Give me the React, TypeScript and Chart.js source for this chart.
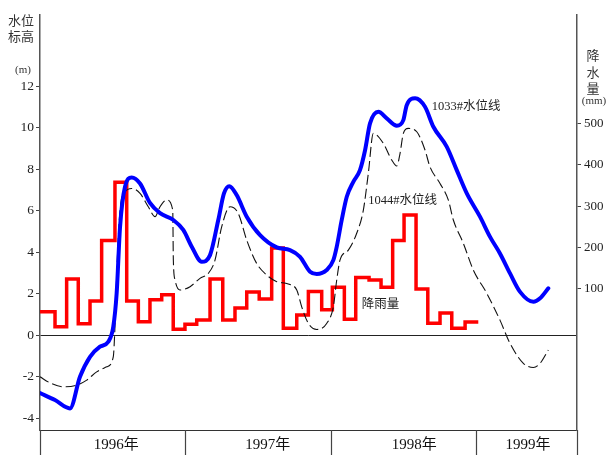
import React, { useEffect, useRef } from 'react';
import { Chart, registerables } from 'chart.js';

Chart.register(...registerables);

// ---- categories / axis labels ----
const yearLabels = ['1996年', '1997年', '1998年', '1999年'];
const yearLabelMonths = [6.3, 18.8, 30.9, 40.3];
const yearBoundaryMonths = [0, 12, 24, 36];
const monthMax = 44.34;
const levelTicks = [-4, -2, 0, 2, 4, 6, 8, 10, 12];
const rainTicks = [100, 200, 300, 400, 500];

// ---- 1033# water level (m), x in months since Jan 1996 ----
const w1033Months = [0, 1.24, 2.48, 3.3, 4.13, 4.95, 5.64, 6.05, 6.33, 6.61, 7.02, 7.57, 8.26, 9.08, 9.91, 11.01, 11.83, 12.53, 13.35, 14.04, 14.72, 15.19, 15.63, 16.24, 17.07, 18.17, 19.55, 20.64, 21.47, 22.3, 22.85, 23.67, 24.22, 24.5, 24.91, 25.33, 25.87, 26.42, 26.84, 27.25, 27.94, 28.63, 29.46, 30.0, 30.28, 30.97, 31.79, 32.48, 33.58, 34.41, 35.24, 36.33, 37.16, 37.98, 38.81, 39.64, 40.74, 41.29, 41.97];
const w1033Levels = [-2.78, -3.12, -3.52, -2.0, -1.04, -0.55, -0.31, 0.41, 2.03, 5.22, 7.15, 7.6, 7.31, 6.37, 5.88, 5.55, 5.07, 4.26, 3.54, 3.86, 5.55, 6.83, 7.18, 6.75, 5.71, 4.82, 4.23, 4.1, 3.78, 3.06, 2.95, 3.14, 3.62, 4.26, 5.54, 6.67, 7.39, 7.95, 8.91, 10.2, 10.76, 10.44, 10.09, 10.36, 11.08, 11.41, 11.0, 10.04, 9.08, 7.95, 6.83, 5.71, 4.74, 3.94, 2.98, 2.09, 1.61, 1.78, 2.26];

// ---- 1044# water level (m) ----
const w1044Months = [0, 0.83, 1.92, 3.03, 3.86, 4.68, 5.51, 6.05, 6.19, 6.38, 6.61, 7.02, 7.57, 8.26, 8.94, 9.5, 9.91, 10.46, 10.96, 11.01, 11.15, 11.56, 12.39, 13.21, 13.9, 14.45, 15.0, 15.69, 16.37, 17.07, 17.89, 18.72, 19.55, 20.5, 21.2, 21.61, 22.16, 22.85, 23.67, 24.22, 24.5, 24.77, 25.46, 26.15, 26.7, 27.11, 27.52, 28.35, 29.04, 29.46, 29.73, 30.0, 30.41, 31.11, 31.79, 32.2, 33.03, 33.72, 34.13, 34.96, 35.78, 36.89, 37.98, 38.81, 39.91, 40.74, 41.29, 41.97];
const w1044Levels = [-2.0, -2.29, -2.48, -2.4, -2.16, -1.76, -1.52, -1.04, 0.41, 3.62, 6.03, 6.91, 7.07, 6.83, 6.19, 5.71, 6.19, 6.51, 6.03, 3.62, 2.66, 2.18, 2.34, 2.74, 2.98, 3.62, 5.22, 6.19, 5.87, 4.58, 3.46, 2.9, 2.58, 2.47, 2.18, 1.37, 0.57, 0.28, 0.57, 1.37, 2.66, 3.62, 4.1, 4.91, 6.03, 7.8, 9.72, 9.24, 8.44, 8.15, 8.76, 9.72, 9.96, 9.8, 8.92, 8.11, 7.31, 6.51, 5.55, 4.42, 3.14, 2.02, 0.73, -0.39, -1.35, -1.55, -1.35, -0.71];

// ---- monthly rainfall (mm), step boundaries in months ----
const rainBounds = [0, 1.24, 2.2, 3.16, 4.13, 5.09, 6.19, 7.16, 8.12, 9.08, 10.05, 11.0, 11.97, 12.94, 14.04, 15.09, 16.1, 17.07, 18.1, 19.13, 20.09, 21.2, 22.16, 23.26, 24.14, 25.13, 26.07, 27.17, 28.16, 29.12, 30.06, 31.05, 32.02, 33.03, 34.0, 35.1, 36.19];
const rainMm = [45, 9, 124, 16, 71, 217, 358, 71, 21, 74, 86, 3, 15, 25, 124, 25, 54, 93, 76, 199, 5, 37, 94, 50, 104, 27, 128, 122, 104, 217, 279, 100, 17, 42, 5, 20];

// ---- annotations (month, level) ----
const notes = [
  { text: '1033#水位线', m: 32.35, v: 11.0 },
  { text: '1044#水位线', m: 27.1, v: 6.5 },
  { text: '降雨量', m: 26.56, v: 1.45 },
];

const SERIF = '"Liberation Serif", "Noto Sans CJK SC", serif';
const CJK = '"Noto Sans CJK SC", "Liberation Serif", sans-serif';

const decorPlugin = {
  id: 'decor',
  afterDraw(chart: any) {
    const { ctx, chartArea: a, scales } = chart;
    const xs = scales.x;
    const ys = scales.y;
    ctx.save();
    // axis extensions & year separators below plot
    ctx.strokeStyle = '#444';
    ctx.lineWidth = 1.2;
    const seps = yearBoundaryMonths.map((m) => xs.getPixelForValue(m));
    seps.push(a.right);
    seps.forEach((px: number) => {
      ctx.beginPath();
      ctx.moveTo(Math.round(px) + 0.5, a.bottom);
      ctx.lineTo(Math.round(px) + 0.5, chart.height);
      ctx.stroke();
    });
    // axis titles
    ctx.fillStyle = '#333';
    ctx.textAlign = 'center';
    ctx.textBaseline = 'middle';
    ctx.font = '13px ' + CJK;
    ctx.fillText('水位', a.left - 19, 20);
    ctx.fillText('标高', a.left - 19, 36);
    ctx.font = '11px ' + SERIF;
    ctx.fillText('(m)', a.left - 17, 70);
    ctx.font = '13px ' + CJK;
    ctx.fillText('降', a.right + 16, 55);
    ctx.fillText('水', a.right + 16, 72);
    ctx.fillText('量', a.right + 16, 88);
    ctx.font = '11px ' + SERIF;
    ctx.fillText('(mm)', a.right + 17, 101);
    // annotations
    ctx.textAlign = 'left';
    ctx.fillStyle = '#222';
    ctx.font = '12.5px ' + SERIF;
    notes.forEach((n) => {
      ctx.fillText(n.text, xs.getPixelForValue(n.m), ys.getPixelForValue(n.v));
    });
    ctx.restore();
  },
};

export default function App() {
  const ref = useRef<HTMLCanvasElement | null>(null);
  useEffect(() => {
    if (!ref.current) return;
    const rainPts = rainMm.map((v, i) => ({ x: rainBounds[i], y: v }));
    rainPts.push({ x: rainBounds[rainBounds.length - 1], y: rainMm[rainMm.length - 1] });
    const chart = new Chart(ref.current, {
      type: 'line',
      data: {
        datasets: [
          {
            label: '1033#水位线',
            data: w1033Months.map((m, i) => ({ x: m, y: w1033Levels[i] })),
            yAxisID: 'y',
            borderColor: '#0000ff',
            borderWidth: 4,
            cubicInterpolationMode: 'monotone',
            borderCapStyle: 'round',
            pointRadius: 0,
            fill: false,
          },
          {
            label: '1044#水位线',
            data: w1044Months.map((m, i) => ({ x: m, y: w1044Levels[i] })),
            yAxisID: 'y',
            borderColor: '#111',
            borderWidth: 1.1,
            borderDash: [10, 4],
            cubicInterpolationMode: 'monotone',
            pointRadius: 0,
            fill: false,
          },
          {
            label: '降雨量',
            data: rainPts,
            yAxisID: 'y2',
            borderColor: '#ff0000',
            borderWidth: 3.5,
            stepped: true,
            borderJoinStyle: 'miter',
            pointRadius: 0,
            fill: false,
          },
        ],
      } as any,
      options: {
        responsive: false,
        animation: false,
        layout: { padding: { top: 15, left: 0, right: 0, bottom: 0 } },
        plugins: { legend: { display: false }, tooltip: { enabled: false } },
        scales: {
          x: {
            type: 'linear',
            position: 'bottom',
            min: 0,
            max: monthMax,
            grid: { display: false, drawTicks: false },
            border: { display: true, color: '#333', width: 1 },
            afterBuildTicks: (s: any) => {
              s.ticks = yearLabelMonths.map((v) => ({ value: v }));
            },
            afterFit: (s: any) => {
              s.height = 25;
            },
            ticks: {
              autoSkip: false,
              maxRotation: 0,
              padding: 6,
              color: '#111',
              font: { family: SERIF, size: 15 },
              callback: (_v: any, i: number) => yearLabels[i],
            },
          },
          y: {
            type: 'linear',
            position: 'left',
            min: -4.56,
            max: 15.42,
            afterBuildTicks: (s: any) => {
              s.ticks = levelTicks.map((v) => ({ value: v }));
            },
            afterFit: (s: any) => {
              s.width = 40;
            },
            grid: {
              color: (c: any) => (c.tick && c.tick.value === 0 ? '#222' : 'rgba(0,0,0,0)'),
              tickColor: '#444',
              tickLength: 4,
              lineWidth: 1,
            },
            border: { color: '#555', width: 1.5 },
            ticks: {
              padding: 2,
              color: '#222',
              font: { family: SERIF, size: 13.5 },
              callback: (v: any) => String(v),
            },
          },
          y2: {
            type: 'linear',
            position: 'right',
            min: -240.6,
            max: 761.8,
            afterBuildTicks: (s: any) => {
              s.ticks = rainTicks.map((v) => ({ value: v }));
            },
            afterFit: (s: any) => {
              s.width = 32;
            },
            grid: { drawOnChartArea: false, tickColor: '#444', tickLength: 4 },
            border: { color: '#555', width: 1.5 },
            ticks: {
              padding: 3,
              color: '#222',
              font: { family: SERIF, size: 13 },
              callback: (v: any) => String(v),
            },
          },
        },
      } as any,
      plugins: [decorPlugin],
    });
    return () => chart.destroy();
  }, []);
  return (
    <div style={{ position: 'absolute', left: 0, top: 0, width: 609, height: 455, background: '#fff' }}>
      <canvas ref={ref} width={609} height={455} />
    </div>
  );
}
